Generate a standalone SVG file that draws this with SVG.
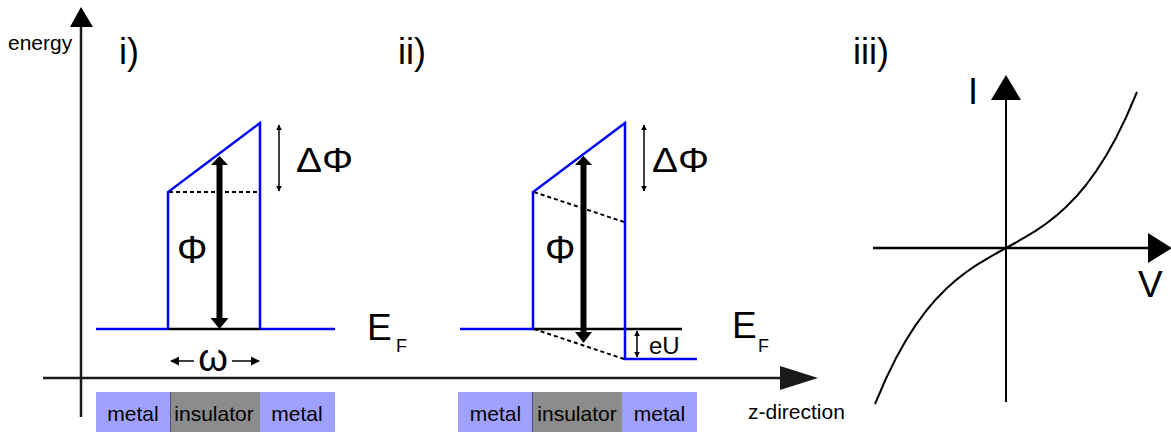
<svg xmlns="http://www.w3.org/2000/svg" width="1171" height="432" viewBox="0 0 1171 432">
<defs>
<style>
text{font-family:"Liberation Sans",Arial,sans-serif;fill:#000}
.lbl{font-size:21px}
.big{font-size:36px}
.blue{stroke:#0000ff;stroke-width:2.5;fill:none}
.blk{stroke:#000;stroke-width:2.5;fill:none}
.dash{stroke:#000;stroke-width:2;stroke-dasharray:4,3;fill:none}
.thin{stroke:#000;stroke-width:1.5;fill:none}
.axis{stroke:#1a1a1a;stroke-width:2.5;fill:none}
.metal{fill:#a0a0ff}
.ins{fill:#8c8c8c}
.sep{stroke:#50507a;stroke-width:1}
</style>
<marker id="sa" viewBox="0 0 10 10" refX="9" refY="5" markerWidth="6" markerHeight="6" markerUnits="userSpaceOnUse" orient="auto-start-reverse">
<path d="M0,0 L10,5 L0,10 z" fill="#000"/>
</marker>
<marker id="ma" viewBox="0 0 10 10" refX="9" refY="5" markerWidth="9" markerHeight="9" markerUnits="userSpaceOnUse" orient="auto-start-reverse">
<path d="M0,0 L10,5 L0,10 z" fill="#000"/>
</marker>
</defs>

<g id="axes">
<line class="axis" x1="81" y1="25" x2="81" y2="417" stroke="#000"/>
<polygon points="81,7 70,27 93,27" fill="#000"/>
<line class="axis" x1="43" y1="378" x2="782" y2="378"/>
<polygon points="818,378 780,366 780,390" fill="#1a1a1a"/>
<text class="lbl" x="8" y="50">energy</text>
<text class="lbl" x="748" y="419">z-direction</text>
</g>

<g id="panel-i">
<text class="big" x="119" y="64">i)</text>
<line class="blue" x1="96" y1="329" x2="168" y2="329"/>
<line class="blk" x1="168" y1="329" x2="260" y2="329"/>
<line class="blue" x1="260" y1="329" x2="335" y2="329"/>
<polyline class="blue" points="168,329 168,192 260,123 260,329"/>
<line class="dash" x1="169" y1="192" x2="259" y2="192"/>
<line x1="219.5" y1="163" x2="219.5" y2="319" stroke="#000" stroke-width="6"/>
<polygon points="219.5,156 211,165 228,165" fill="#000"/>
<polygon points="219.5,329 210.5,318 228.5,318" fill="#000"/>
<line class="thin" x1="279" y1="125" x2="279" y2="191" marker-start="url(#sa)" marker-end="url(#sa)"/>
<text x="296" y="172" style="font-size:35px" textLength="57" lengthAdjust="spacingAndGlyphs">ΔΦ</text>
<text x="177" y="263" style="font-size:38px">Φ</text>
<text x="367" y="340" style="font-size:37px">E</text>
<text x="396" y="352" style="font-size:18px">F</text>
<line class="thin" x1="171" y1="361" x2="194" y2="361" marker-start="url(#ma)"/>
<line class="thin" x1="232" y1="361" x2="259" y2="361" marker-end="url(#ma)"/>
<text x="213" y="371" text-anchor="middle" style="font-size:38px">ω</text>
</g>

<g id="bar-i">
<rect class="metal" x="96" y="392" width="74" height="40"/>
<rect class="ins" x="170" y="392" width="90" height="40"/>
<rect class="metal" x="260" y="392" width="75" height="40"/>
<line class="sep" x1="170.5" y1="392" x2="170.5" y2="432"/>
<text class="lbl" x="133" y="421" text-anchor="middle">metal</text>
<text class="lbl" x="214" y="421" text-anchor="middle">insulator</text>
<text class="lbl" x="297" y="421" text-anchor="middle">metal</text>
</g>

<g id="panel-ii">
<text class="big" x="398" y="64">ii)</text>
<line class="blue" x1="460" y1="329" x2="533" y2="329"/>
<line class="blk" x1="533" y1="329" x2="682" y2="329"/>
<polyline class="blue" points="533,329 533,192 625,123 625,359 697,359"/>
<line class="dash" x1="534" y1="192" x2="624" y2="222"/>
<line class="dash" x1="534" y1="329" x2="624" y2="359"/>
<line x1="583.5" y1="163" x2="583.5" y2="334" stroke="#000" stroke-width="6"/>
<polygon points="583.5,156 575,165 592,165" fill="#000"/>
<polygon points="583.5,343 575,332 592,332" fill="#000"/>
<line class="thin" x1="644" y1="125" x2="644" y2="191" marker-start="url(#sa)" marker-end="url(#sa)"/>
<text x="652" y="172" style="font-size:35px" textLength="57" lengthAdjust="spacingAndGlyphs">ΔΦ</text>
<text x="545" y="263" style="font-size:38px">Φ</text>
<line class="thin" x1="637" y1="331" x2="637" y2="357" marker-start="url(#sa)" marker-end="url(#sa)"/>
<text x="649" y="354" style="font-size:24px">eU</text>
<text x="732" y="338" style="font-size:37px">E</text>
<text x="758" y="352" style="font-size:18px">F</text>
</g>

<g id="bar-ii">
<rect class="metal" x="458" y="392" width="75" height="40"/>
<rect class="ins" x="533" y="392" width="89" height="40"/>
<rect class="metal" x="622" y="392" width="75" height="40"/>
<line class="sep" x1="532.5" y1="392" x2="532.5" y2="432"/>
<text class="lbl" x="495.5" y="421" text-anchor="middle">metal</text>
<text class="lbl" x="577" y="421" text-anchor="middle">insulator</text>
<text class="lbl" x="659.5" y="421" text-anchor="middle">metal</text>
</g>

<g id="panel-iii">
<text class="big" x="853" y="64">iii)</text>
<line x1="1006" y1="98" x2="1006" y2="402" stroke="#000" stroke-width="2"/>
<polygon points="1006,75 991,100 1021,100" fill="#000"/>
<line x1="873" y1="248" x2="1150" y2="248" stroke="#000" stroke-width="2.5"/>
<polygon points="1172,248 1148,233 1148,263" fill="#000"/>
<text x="968" y="104" style="font-size:36px">I</text>
<text x="1138" y="297" style="font-size:37px">V</text>
<polyline fill="none" stroke="#000" stroke-width="2" stroke-linejoin="round" points="875,404 886,378.5 896,358.1 906,340.2 916,324.6 926,311 936,299.2 946,289 956,280.1 966,272.3 976,265.4 986,259.3 996,253.5 1006,248 1016,242.5 1026,236.7 1036,230.6 1046,223.7 1056,215.9 1066,207 1076,196.8 1086,185 1096,171.4 1106,155.8 1116,137.9 1126,117.5 1137,92"/>
</g>
</svg>
